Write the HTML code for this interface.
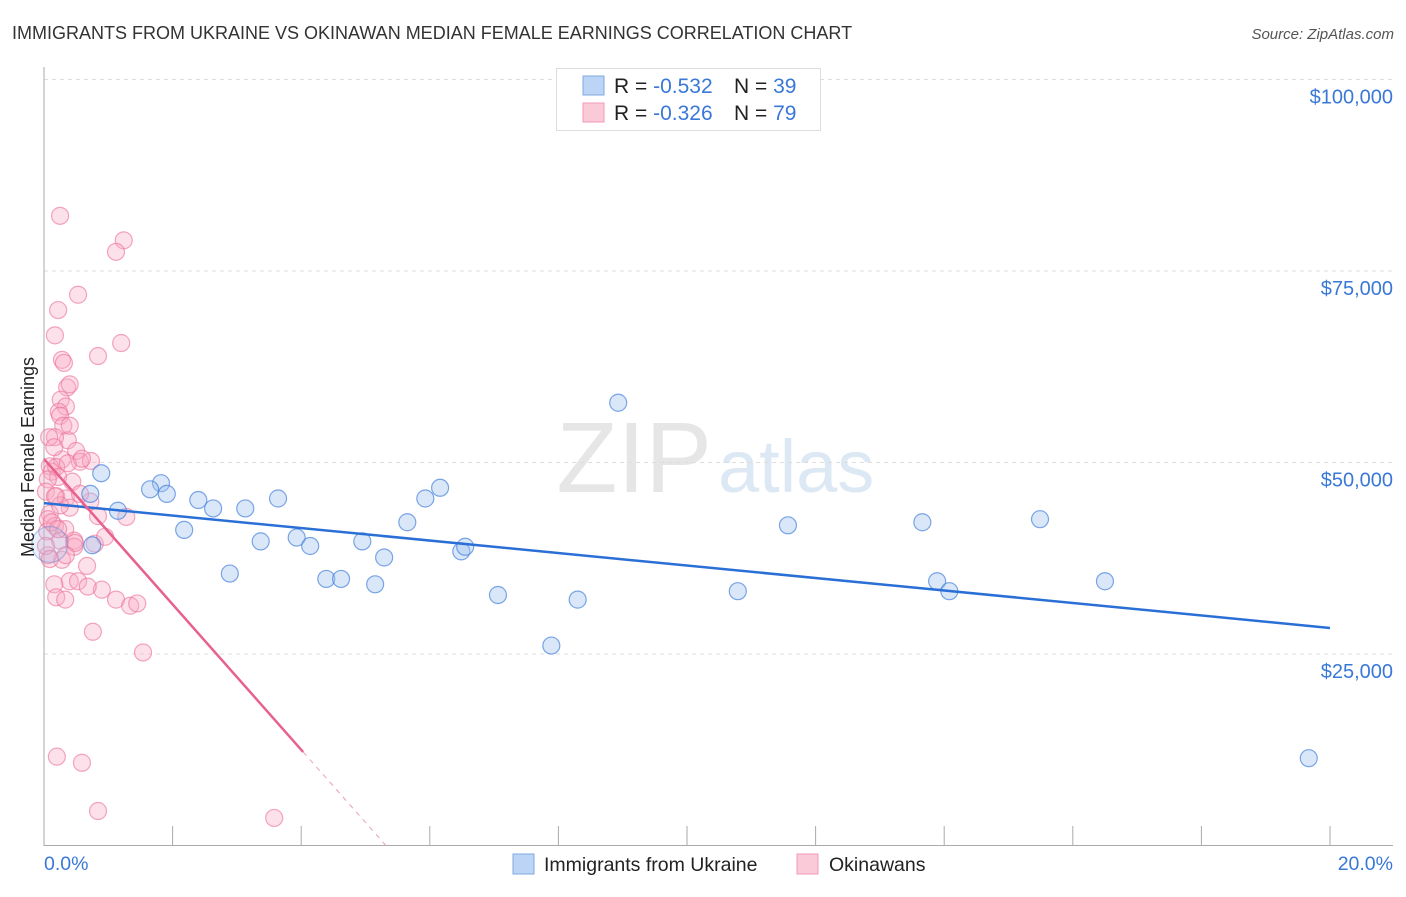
<!DOCTYPE html>
<html><head><meta charset="utf-8"><style>
body{margin:0;background:#fff;font-family:"Liberation Sans",sans-serif}
svg text{font-family:"Liberation Sans",sans-serif}
</style></head><body>
<svg width="1406" height="892" xmlns="http://www.w3.org/2000/svg">
<text x="12" y="39" font-size="18" fill="#333">IMMIGRANTS FROM UKRAINE VS OKINAWAN MEDIAN FEMALE EARNINGS CORRELATION CHART</text>
<text x="1394" y="39" font-size="15" fill="#555" font-style="italic" text-anchor="end">Source: ZipAtlas.com</text>
<text x="712" y="492" font-size="100" fill="#e6e6e6" text-anchor="end" font-family="Liberation Serif">ZIP</text>
<text x="718" y="492" font-size="74" fill="#dde8f5">atlas</text>
<g id="grid"></g>
<g id="axes"></g>
<g id="marks"></g>
<text transform="translate(34,457) rotate(-90)" font-size="18" fill="#222" text-anchor="middle">Median Female Earnings</text>
<g>
<rect x="556.5" y="68.5" width="264" height="62" fill="#fff" stroke="#ddd"/>
<rect x="583" y="76" width="21" height="19" fill="#bcd4f5" stroke="#7fa8e0"/>
<rect x="583" y="103" width="21" height="19" fill="#fbcad8" stroke="#f09ab5"/>
<text x="614" y="93" font-size="21" fill="#222">R = <tspan fill="#3a78d8">-0.532</tspan><tspan x="734">N = </tspan><tspan fill="#3a78d8">39</tspan></text>
<text x="614" y="120" font-size="21" fill="#222">R = <tspan fill="#3a78d8">-0.326</tspan><tspan x="734">N = </tspan><tspan fill="#3a78d8">79</tspan></text>
</g>
<g>
<rect x="513" y="854" width="21" height="20" fill="#bcd4f5" stroke="#7fa8e0"/>
<text x="544" y="871" font-size="19.5" fill="#222">Immigrants from Ukraine</text>
<rect x="797" y="854" width="21" height="20" fill="#fbcad8" stroke="#f09ab5"/>
<text x="829" y="871" font-size="19.5" fill="#222">Okinawans</text>
</g>
</svg>
<script>
const yTicks=[25000,50000,75000,100000];
const yTickLabels=["$25,000","$50,000","$75,000","$100,000"];
const xTickVals=[0,2,4,6,8,10,12,14,16,18,20];
const ukraineX=[0.89,1.82,1.65,1.91,1.15,2.18,2.4,2.63,2.89,3.13,3.37,3.64,3.93,4.14,4.39,4.62,4.95,5.15,5.29,5.65,5.93,6.16,6.49,6.55,7.06,7.89,8.3,8.93,10.79,11.57,13.66,13.89,14.08,15.49,16.5,19.67,0.72,0.75,0.09];
const ukraineY=[48600,47300,46500,45900,43700,41200,45100,44000,35500,44000,39700,45300,40200,39100,34800,34800,39700,34100,37600,42200,45300,46700,38400,39000,32700,26100,32100,57800,33200,41800,42200,34500,33200,42600,34500,11400,45900,39200,39300];
const okiX=[0.25,1.24,1.12,0.53,0.22,0.17,0.84,1.2,0.28,0.31,0.36,0.4,0.26,0.34,0.23,0.25,0.3,0.37,0.17,0.5,0.28,0.56,0.73,0.09,0.12,0.19,0.22,0.44,0.06,0.03,0.19,0.34,0.72,0.4,0.09,0.06,0.17,0.33,0.84,1.28,0.05,0.25,0.47,0.79,0.95,0.28,0.06,0.47,0.67,0.4,0.53,0.16,0.19,0.33,0.9,1.12,1.34,1.45,0.76,1.54,0.2,0.59,0.84,3.58,0.48,0.37,0.08,0.16,0.4,0.59,0.25,0.12,0.17,0.56,0.03,0.09,0.22,0.34,0.68];
const okiY=[82200,79000,77500,71900,69900,66600,63900,65600,63400,63000,59800,60200,58200,57300,56600,56100,54800,52900,53300,51500,50400,50100,50200,49500,48800,49400,48100,47500,47800,46200,45600,45300,44900,44100,43300,42600,41700,41300,43000,42900,41000,39800,39800,39400,40300,37300,37900,39000,36500,34500,34500,34100,32400,32100,33400,32100,31300,31600,27900,25200,11600,10800,4500,3600,39500,49900,53300,52000,54800,50500,44400,42200,45600,45900,39100,37400,41300,37900,33800];
const ukraineTrend=[44700,-815];
const okiTrend=[50460,-9490];
const X0=44,X1=1330,Y0=845.5,PXPER=191.5/25000;
const xs=v=>X0+(X1-X0)*v/20, ys=v=>Y0-v*PXPER;
const NS="http://www.w3.org/2000/svg";
function mk(t,a,p){const e=document.createElementNS(NS,t);for(const k in a)e.setAttribute(k,a[k]);p.appendChild(e);return e;}
const grid=document.getElementById('grid'),axes=document.getElementById('axes'),marks=document.getElementById('marks');
yTicks.forEach((v,i)=>{
 const l=mk('line',{x1:44,x2:1393,y1:ys(v),y2:ys(v),stroke:'#ddd','stroke-dasharray':'4,4'},grid);
 
 
 const t=mk('text',{x:1393,y:ys(v)+24,'font-size':20,fill:'#3a78d8','text-anchor':'end'},axes);
 t.textContent=yTickLabels[i];
 
 
});
const ya=mk('line',{x1:44,x2:44,y1:67,y2:846,stroke:'#aaa'},axes);


const xa=mk('line',{x1:44,x2:1393,y1:845.5,y2:845.5,stroke:'#aaa'},axes);


xTickVals.forEach(v=>{
 const t=mk('line',{x1:xs(v),x2:xs(v),y1:826,y2:846,stroke:'#aaa'},axes);
 
 
});
const xl0=mk('text',{x:44,y:870,'font-size':19.5,fill:'#3a78d8'},axes);xl0.textContent='0.0%';


const xl1=mk('text',{x:1393,y:870,'font-size':19.5,fill:'#3a78d8','text-anchor':'end'},axes);xl1.textContent='20.0%';


okiX.forEach((x,i)=>{
 const c=mk('circle',{cx:xs(x),cy:ys(okiY[i]),r:8.5,fill:'rgba(248,170,195,0.35)',stroke:'rgba(235,110,150,0.6)','stroke-width':1.2},marks);
 
 
});
ukraineX.forEach((x,i)=>{
 const c=mk('circle',{cx:xs(x),cy:ys(ukraineY[i]),r:i==38?18:8.5,fill:i==38?'rgba(160,195,240,0.25)':'rgba(160,195,240,0.4)',stroke:i==38?'rgba(70,130,220,0.4)':'rgba(70,130,220,0.7)','stroke-width':1.2},marks);
 
 
});
const bl=mk('line',{x1:xs(0),y1:ys(ukraineTrend[0]),x2:xs(20),y2:ys(ukraineTrend[0]+ukraineTrend[1]*20),stroke:'#2a6fd6','stroke-width':2.5},marks);


const xz=-okiTrend[0]/okiTrend[1];
const xe=4.03;
const pl=mk('line',{x1:xs(0),y1:ys(okiTrend[0]),x2:xs(xe),y2:ys(okiTrend[0]+okiTrend[1]*xe),stroke:'#e8608e','stroke-width':2.5},marks);


const pd=mk('line',{x1:xs(xe),y1:ys(okiTrend[0]+okiTrend[1]*xe),x2:xs(xz),y2:ys(0),stroke:'#e8a0b8','stroke-width':1,'stroke-dasharray':'5,5'},marks);


</script>
</body></html>
